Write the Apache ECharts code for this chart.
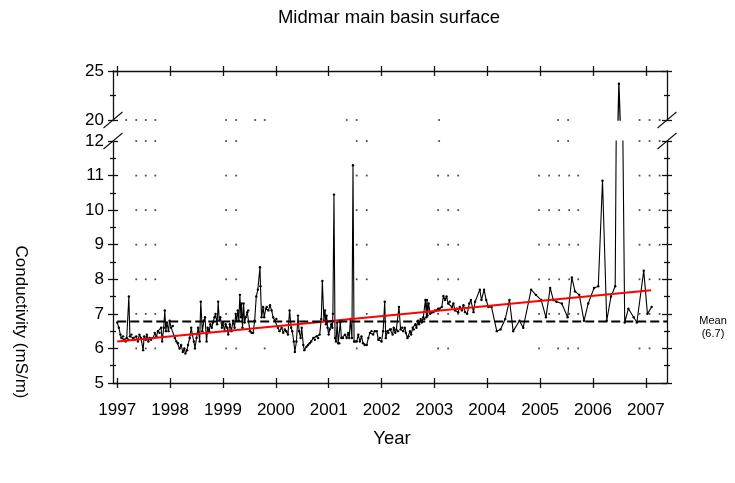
<!DOCTYPE html>
<html><head><meta charset="utf-8">
<script src="https://cdn.jsdelivr.net/npm/echarts@6/dist/echarts.min.js"></script>
<style>html,body{margin:0;padding:0;background:#fff}#c{width:735px;height:483px}</style>
</head><body><div id="c"></div>
<script>
// ---------------- data ----------------
const titleText = 'Midmar main basin surface';
const xAxisTitle = 'Year';
const yAxisTitle = 'Conductivity (mS/m)';
const tickYears = [1997,1998,1999,2000,2001,2002,2003,2004,2005,2006,2007];

const sampleYears = [
1997.00,1997.03,1997.06,1997.08,1997.11,1997.13,1997.16,1997.18,1997.21,1997.22,1997.24,1997.27,1997.30,1997.33,1997.36,1997.39,1997.42,1997.45,1997.49,1997.51,1997.54,1997.56,1997.59,1997.61,1997.64,1997.68,1997.71,1997.74,1997.77,1997.80,1997.83,1997.85,1997.88,1997.90,1997.92,1997.94,1997.97,1997.99,
1998.02,1998.05,1998.09,1998.12,1998.15,1998.18,1998.21,1998.24,1998.27,1998.29,1998.32,1998.34,1998.37,1998.40,1998.42,1998.45,1998.47,1998.50,1998.53,1998.56,1998.58,1998.61,1998.64,1998.66,1998.69,1998.71,1998.74,1998.76,1998.79,1998.81,1998.84,1998.86,1998.89,1998.91,1998.93,1998.95,1998.98,
1999.00,1999.03,1999.05,1999.08,1999.10,1999.13,1999.16,1999.19,1999.22,1999.24,1999.26,1999.28,1999.30,1999.32,1999.34,1999.35,1999.37,1999.39,1999.41,1999.43,1999.46,1999.48,1999.51,1999.54,1999.57,1999.60,1999.63,1999.66,1999.70,1999.71,1999.73,1999.76,1999.78,1999.81,1999.83,1999.86,1999.89,1999.92,1999.95,1999.98,
2000.01,2000.04,2000.07,2000.11,2000.14,2000.17,2000.20,2000.23,2000.26,2000.29,2000.31,2000.34,2000.36,2000.39,2000.42,2000.44,2000.47,2000.49,2000.52,2000.54,2000.58,2000.61,2000.64,2000.67,2000.71,2000.74,2000.77,2000.80,2000.83,2000.86,2000.88,2000.91,2000.93,2000.95,2000.96,2000.98,
2001.00,2001.02,2001.05,2001.07,2001.08,2001.10,2001.12,2001.14,2001.16,2001.18,2001.20,2001.22,2001.24,2001.27,2001.31,2001.34,2001.37,2001.39,2001.41,2001.44,2001.46,2001.48,2001.50,2001.53,2001.56,2001.59,2001.62,2001.65,2001.68,2001.72,2001.75,2001.78,2001.81,2001.84,2001.87,2001.91,2001.94,2001.97,
2002.00,2002.03,2002.06,2002.08,2002.11,2002.13,2002.16,2002.18,2002.21,2002.23,2002.26,2002.28,2002.31,2002.33,2002.36,2002.39,2002.41,2002.44,2002.46,2002.49,2002.51,2002.54,2002.56,2002.59,2002.61,2002.64,2002.66,2002.69,2002.71,2002.74,2002.76,2002.79,2002.81,2002.83,2002.85,2002.86,2002.87,2002.89,2002.92,2002.95,2002.98,
2003.01,2003.04,2003.07,2003.10,2003.14,2003.17,2003.20,2003.23,2003.26,2003.29,2003.33,2003.36,2003.39,2003.42,2003.45,2003.48,2003.52,2003.55,2003.58,2003.62,2003.66,2003.69,2003.74,2003.77,2003.86,2003.89,2003.94,2003.98,
2004.02,2004.08,2004.18,2004.25,2004.34,2004.42,2004.49,2004.61,2004.68,2004.83,2004.92,
2005.02,2005.11,2005.19,2005.25,2005.31,2005.41,2005.52,2005.60,2005.66,2005.74,2005.83,2005.91,
2006.02,2006.10,2006.18,2006.26,2006.34,2006.42,2006.49,2006.60,2006.67,2006.77,2006.83,2006.96,2007.03,2007.11
];
const conductivity = [
6.75,6.6,6.4,6.3,6.35,6.25,6.2,6.3,6.25,7.5,6.35,6.4,6.3,6.25,6.35,6.2,6.4,6.3,5.95,6.35,6.25,6.4,6.2,6.3,6.25,6.3,6.45,6.35,6.5,6.45,6.6,6.2,6.6,7.1,6.5,6.75,6.5,6.8,
6.6,6.65,6.3,6.2,6.15,6.0,6.1,5.9,6.0,5.85,5.95,6.1,6.3,6.6,6.4,6.2,6.0,6.3,6.6,6.2,7.35,6.5,6.8,6.9,6.2,6.6,6.5,6.7,6.6,6.75,6.9,7.0,6.7,7.35,6.8,6.9,6.6,
6.75,6.5,6.7,6.6,6.4,6.7,6.5,6.8,6.6,7.0,6.8,7.1,6.8,7.55,6.9,7.3,6.6,7.3,6.75,6.9,7.05,7.1,6.5,6.45,6.45,6.8,7.5,7.7,8.35,7.8,6.9,7.2,6.9,7.15,7.2,7.1,7.25,7.1,6.9,6.8,
6.85,6.6,6.5,6.6,6.45,6.55,6.5,6.4,7.1,6.6,6.5,6.2,5.9,6.2,6.95,6.5,6.3,6.6,6.1,5.95,6.05,6.1,6.15,6.2,6.3,6.25,6.35,6.3,6.4,6.85,7.95,6.8,7.1,6.7,6.95,6.6,
6.4,6.55,6.7,6.6,7.0,10.45,6.3,6.2,6.75,6.15,6.15,6.75,6.3,6.3,6.4,6.3,6.45,6.3,6.85,6.3,11.3,6.2,6.2,6.2,6.4,6.2,6.35,6.15,6.1,6.1,6.3,6.45,6.5,6.4,6.5,6.5,6.25,6.3,
6.2,6.5,7.35,6.3,6.5,6.45,6.55,6.55,6.4,6.6,6.45,6.55,6.5,7.2,6.55,6.6,6.5,6.6,6.45,6.3,6.35,6.5,6.4,6.6,6.55,6.7,6.6,6.8,6.7,6.85,6.75,6.9,6.85,7.4,6.9,7.4,6.95,7.3,7.0,7.05,7.05,
7.1,7.1,7.15,7.15,7.2,7.52,7.4,7.5,7.3,7.35,7.2,7.3,7.1,7.15,7.05,7.2,7.1,7.25,7.05,7.0,7.3,7.4,7.05,7.35,7.7,7.4,7.7,7.4,
7.2,7.2,6.5,6.55,6.85,7.4,6.5,6.8,6.6,7.7,7.55,
7.4,6.9,7.75,7.4,7.35,7.3,6.9,8.05,7.65,7.55,6.8,7.3,
7.75,7.8,10.85,6.8,7.5,7.8,23.7,6.75,7.15,6.9,6.75,8.25,7.0,7.2
];

const trendYears = [1997.0, 2007.1];
const trendValues = [6.2, 7.68];
const meanYears = [1997.0, 2007.4];
const meanValue = 6.78;
const meanLabel = 'Mean\n(6.7)';

// faint dotted marks seen at whole-number levels
const dotsLevel20 = [1997.17,1997.36,1997.54,1997.72,1999.06,1999.25,1999.61,1999.79,2001.34,2001.53,2003.09,2005.34,2005.53,2006.88,2007.07,2007.26];
const dotsLevel12 = [1997.36,1997.54,1997.72,1999.06,1999.25,2001.53,2001.72,2003.09,2005.34,2005.53,2006.88,2007.07,2007.26];
const dotsLevels8to11 = [1997.36,1997.54,1997.72,1999.06,1999.25,2001.53,2001.72,2003.07,2003.26,2003.45,2004.98,2005.17,2005.36,2005.55,2005.72,2006.88,2007.07,2007.26];
const dotsLevel7 = [1997.36,1997.54,1997.72,1999.06,2001.72,2003.07,2003.26,2003.45,2004.98,2005.17,2005.36,2005.55,2005.72,2006.88,2007.07,2007.26];
const dotsLevel6 = [1997.36,1997.54,1997.72,1999.06,1999.25,1999.79,2001.53,2003.07,2003.26,2004.98,2005.34,2005.53,2005.72,2006.88,2007.07];
const midLevels = [8,9,10,11];

// ---------------- chart ----------------
const X_MIN = 1996.92, X_MAX = 2007.40;
const FONT = '"Liberation Sans", Arial, sans-serif';
const INK = '#111';
const lineSty = {color: INK, width: 1.3};

const series_data = sampleYears.map((y, i) => [y, conductivity[i]]);
const lowerDots = [];
dotsLevel12.forEach(x => lowerDots.push([x, 12]));
midLevels.forEach(lv => dotsLevels8to11.forEach(x => lowerDots.push([x, lv])));
dotsLevel7.forEach(x => lowerDots.push([x, 7]));
dotsLevel6.forEach(x => lowerDots.push([x, 6]));
const upperDots = dotsLevel20.map(x => [x, 20]);

function xAxes(gridIndex, position, labels) {
  const base = {type: 'value', gridIndex, position, min: X_MIN, max: X_MAX, splitLine: {show: false}};
  return [
    Object.assign({}, base, {
      axisLine: {show: true, lineStyle: lineSty},
      axisTick: {show: true, inside: false, length: 5, customValues: tickYears, lineStyle: lineSty},
      axisLabel: labels ? {show: true, customValues: tickYears, formatter: v => String(Math.round(v)),
        fontFamily: FONT, fontSize: 17, color: '#000', margin: 19} : {show: false}
    }),
    Object.assign({}, base, {
      axisLine: {show: false},
      axisTick: {show: true, inside: true, length: 5, customValues: tickYears, lineStyle: lineSty},
      axisLabel: {show: false}
    })
  ];
}
function yAxes(gridIndex, min, max, interval) {
  const mk = (position, inside, labels, line) => ({
    type: 'value', gridIndex, position, min, max, interval,
    splitLine: {show: false},
    axisLine: {show: line, lineStyle: lineSty},
    axisTick: {show: true, inside, length: 5, lineStyle: lineSty},
    minorTick: {show: true, splitNumber: 2, length: 3, lineStyle: lineSty},
    axisLabel: labels ? {show: true, fontFamily: FONT, fontSize: 17, color: '#000', margin: 9} : {show: false}
  });
  return [mk('left', false, true, true), mk('left', true, false, false),
          mk('right', false, false, true), mk('right', true, false, false)];
}

const grids = [
  {left: 113, right: 68, top: 141, bottom: 100},
  {left: 113, right: 68, top: 71, height: 49}
];

const option = {
  animation: false,
  backgroundColor: '#fff',
  grid: grids,
  xAxis: [...xAxes(0, 'bottom', true), ...xAxes(1, 'top', false)],
  yAxis: [...yAxes(0, 5, 12, 1), ...yAxes(1, 20, 25, 5)],
  series: [
    {type: 'scatter', xAxisIndex: 0, yAxisIndex: 0, data: lowerDots, symbol: 'rect', symbolSize: 1.8,
      itemStyle: {color: '#222'}, z: 1, silent: true},
    {type: 'scatter', xAxisIndex: 2, yAxisIndex: 4, data: upperDots, symbol: 'rect', symbolSize: 1.8,
      itemStyle: {color: '#222'}, z: 1, silent: true},
    {type: 'line', xAxisIndex: 0, yAxisIndex: 0, data: series_data, clip: true,
      symbol: 'circle', symbolSize: 2.4, showSymbol: true, itemStyle: {color: '#000'},
      lineStyle: {color: '#000', width: 1.1}, z: 2},
    {type: 'line', xAxisIndex: 2, yAxisIndex: 4, data: series_data, clip: true,
      symbol: 'circle', symbolSize: 2.4, showSymbol: true, itemStyle: {color: '#000'},
      lineStyle: {color: '#000', width: 1.3}, z: 2},
    {type: 'line', xAxisIndex: 0, yAxisIndex: 0, data: trendYears.map((x, i) => [x, trendValues[i]]),
      showSymbol: false, lineStyle: {color: '#ff0000', width: 2}, z: 3},
    {type: 'line', xAxisIndex: 0, yAxisIndex: 0, data: meanYears.map(x => [x, meanValue]),
      showSymbol: false, lineStyle: {color: '#000', width: 2, type: [9, 4]}, z: 4}
  ]
};

const chart = echarts.init(document.getElementById('c'));
chart.setOption(option);

// decorations: titles, axis-break marks, mean label
const pUpperL = chart.convertToPixel({xAxisIndex: 2, yAxisIndex: 4}, [X_MIN, 20]);
const pUpperR = chart.convertToPixel({xAxisIndex: 2, yAxisIndex: 4}, [X_MAX, 20]);
const pLowerL = chart.convertToPixel({xAxisIndex: 0, yAxisIndex: 0}, [X_MIN, 12]);
const pLowerR = chart.convertToPixel({xAxisIndex: 0, yAxisIndex: 0}, [X_MAX, 12]);
const pMean = chart.convertToPixel({xAxisIndex: 0, yAxisIndex: 0}, [X_MAX, meanValue]);
const slash = p => ({type: 'line', shape: {x1: p[0] - 9.5, y1: p[1] + 8, x2: p[0] + 9.5, y2: p[1] - 8},
  style: {stroke: INK, lineWidth: 1.1}, z: 10});
const txt = (x, y, text, size, extra) => Object.assign({type: 'text', x, y,
  style: {text, font: size + 'px ' + FONT, fill: '#000', align: 'center', verticalAlign: 'middle'}, z: 10}, extra || {});

chart.setOption({
  graphic: [
    slash(pUpperL), slash(pUpperR), slash(pLowerL), slash(pLowerR),
    txt(389, 18, titleText, 18.5),
    txt(392, 439, xAxisTitle, 18.5),
    txt(21, 322, yAxisTitle, 17, {rotation: -Math.PI / 2}),
    {type: 'text', x: pMean[0] + 46, y: pMean[1] + 6,
      style: {text: meanLabel, font: '11px ' + FONT, fill: '#000', align: 'center', verticalAlign: 'middle', lineHeight: 12.5}, z: 10}
  ]
});
</script>
</body></html>
